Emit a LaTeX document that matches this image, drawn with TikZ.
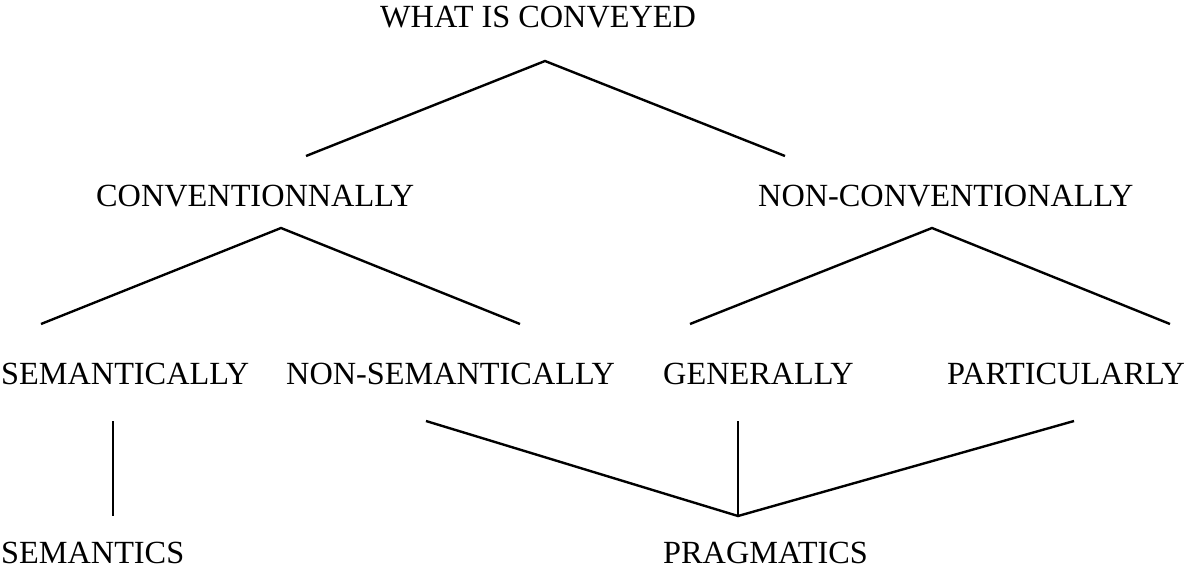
\documentclass[tikz,border=0pt]{standalone}
\usepackage{fontspec}
\setmainfont{Liberation Serif}

\begin{document}
\begin{tikzpicture}[x=1pt, y=-1pt]
  % Fix the page to the full frame (pixel units, y pointing down)
  \useasboundingbox (0,0) rectangle (1184,571);

  % ==========================================
  % 1. STYLES
  % ==========================================
  \tikzset{
    term/.style={inner sep=0pt, anchor=base west, font=\fontsize{32.3}{36}\selectfont},
    branch/.style={black, line width=2.4pt}
  }

  % ==========================================
  % 2. LABELS (one row per level)
  % ==========================================
  \node[term] (conveyed) at (380,27) {WHAT IS CONVEYED};

  \node[term] (conv)    at (96,206)  {CONVENTIONNALLY};
  \node[term] (nonconv) at (758,206) {NON-CONVENTIONALLY};

  \node[term] (sem)    at (1,384)   {SEMANTICALLY};
  \node[term] (nonsem) at (286,384) {NON-SEMANTICALLY};
  \node[term] (gen)    at (663,384) {GENERALLY};
  \node[term] (part)   at (947,384) {PARTICULARLY};

  \node[term] (semantics)  at (1,563)   {SEMANTICS};
  \node[term] (pragmatics) at (663,563) {PRAGMATICS};

  % ==========================================
  % 3. BRANCH POINTS
  % ==========================================
  \coordinate (conveyedTop) at (545,61);
  \coordinate (convEnd)     at (306,156);
  \coordinate (nonconvEnd)  at (785,156);

  \coordinate (convTop)   at (281,228);
  \coordinate (semEnd)    at (41,324);
  \coordinate (nonsemEnd) at (520,324);

  \coordinate (nonconvTop) at (932,228);
  \coordinate (genEnd)     at (690,324);
  \coordinate (partEnd)    at (1170,324);

  \coordinate (semFoot)    at (113,421);
  \coordinate (semanticsTop) at (113,516);

  \coordinate (nonsemFoot) at (426,421);
  \coordinate (genFoot)    at (738,421);
  \coordinate (partFoot)   at (1074,421);
  \coordinate (pragmaticsTop) at (738,516);

  % ==========================================
  % 4. TREE LINES
  % ==========================================
  \draw[branch] (convEnd) -- (conveyedTop) -- (nonconvEnd);
  \draw[branch] (semEnd) -- (convTop) -- (nonsemEnd);
  \draw[branch] (genEnd) -- (nonconvTop) -- (partEnd);

  \draw[branch] (semFoot) -- (semanticsTop);
  \draw[branch] (nonsemFoot) -- (pragmaticsTop) -- (partFoot);
  \draw[branch] (genFoot) -- (pragmaticsTop);

\end{tikzpicture}
\end{document}
